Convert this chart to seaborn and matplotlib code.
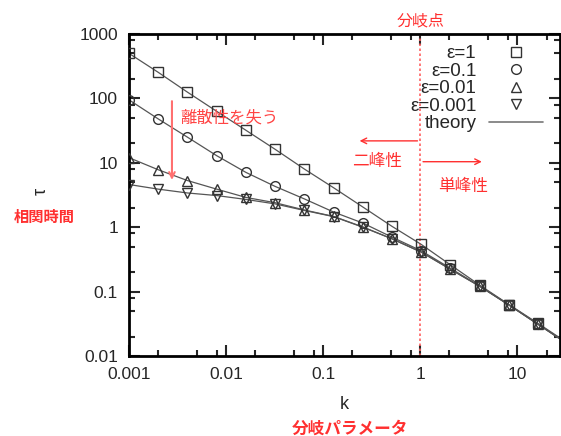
# Correlation time vs bifurcation parameter k (log-log), with annotations

import numpy as np
import pandas as pd
import seaborn as sns
import matplotlib
matplotlib.use("Agg")
import matplotlib.pyplot as plt
from matplotlib.lines import Line2D
from matplotlib.ticker import LogLocator, NullFormatter, FixedFormatter, FixedLocator

sns.set_style("ticks")
plt.rcParams['font.family'] = ['Liberation Sans', 'Noto Sans CJK JP']
plt.rcParams['axes.unicode_minus'] = False

# data
k = [0.001, 0.002, 0.004, 0.008, 0.016, 0.032, 0.064, 0.128, 0.256, 0.512,
     1.024, 2.048, 4.096, 8.192, 16.384, 32.768]
tau_eps1 = [500, 254, 125, 63, 32, 16.2, 8.0, 4.1, 2.06, 1.03,
            0.54, 0.26, 0.126, 0.063, 0.032, 0.016]
tau_eps01 = [95, 48, 25, 12.9, 7.1, 4.3, 2.75, 1.72, 1.16, 0.70,
             0.43, 0.23, 0.122, 0.062, 0.031, 0.0155]
tau_eps001 = [12, 7.8, 5.3, 3.9, 2.9, 2.4, 1.85, 1.47, 1.01, 0.66,
              0.41, 0.222, 0.121, 0.062, 0.031, 0.0155]
tau_eps0001 = [4.6, 3.9, 3.4, 3.1, 2.7, 2.3, 1.82, 1.46, 1.0, 0.66,
               0.41, 0.222, 0.121, 0.062, 0.031, 0.0155]

eps_labels = ["ε=1", "ε=0.1", "ε=0.01", "ε=0.001"]
eps_markers = ["s", "o", "^", "v"]
series = [tau_eps1, tau_eps01, tau_eps001, tau_eps0001]

xtick_vals = [0.001, 0.01, 0.1, 1, 10]
xtick_labels = ["0.001", "0.01", "0.1", "1", "10"]
ytick_vals = [0.01, 0.1, 1, 10, 100, 1000]
ytick_labels = ["0.01", "0.1", "1", "10", "100", "1000"]

df = pd.concat([
    pd.DataFrame({"k": k, "tau": s, "eps": lab})
    for s, lab in zip(series, eps_labels)
])

red = "#ff3030"

fig = plt.figure(figsize=(5.61, 4.36), dpi=100)
ax = fig.add_axes([129/561, 80/436, 431/561, 322/436])

# theory curves (gray lines) and simulation points (open markers)
for lab, mk in zip(eps_labels, eps_markers):
    sub = df[df.eps == lab]
    sns.lineplot(data=sub, x="k", y="tau", ax=ax, color="#555555", lw=0.9,
                 legend=False, zorder=2)
    ax.plot(sub.k, sub.tau, ls="none", marker=mk, ms=7, mfc="none",
            mec="#333333", mew=1.0, zorder=3, clip_on=True)

ax.set_xscale("log")
ax.set_yscale("log")
ax.set_xlim(0.001, 27.5)
ax.set_ylim(0.01, 1000)

ax.xaxis.set_major_locator(FixedLocator(xtick_vals))
ax.xaxis.set_major_formatter(FixedFormatter(xtick_labels))
ax.yaxis.set_major_locator(FixedLocator(ytick_vals))
ax.yaxis.set_major_formatter(FixedFormatter(ytick_labels))
ax.xaxis.set_minor_locator(LogLocator(base=10, subs=(2, 5, 8)))
ax.yaxis.set_minor_locator(LogLocator(base=10, subs=(2, 5, 8)))
ax.xaxis.set_minor_formatter(NullFormatter())
ax.yaxis.set_minor_formatter(NullFormatter())
ax.tick_params(which="both", direction="in", top=True, right=True,
               labelsize=12.5, width=1.5)
ax.tick_params(which="major", length=8, pad=8)
ax.tick_params(which="minor", length=4)
for sp in ax.spines.values():
    sp.set_linewidth(2)
    sp.set_color("black")

ax.set_xlabel("k", fontsize=13, labelpad=10)
ax.set_ylabel("")

# legend: text first, marker/line on the right
handles = [Line2D([], [], ls="none", marker=mk, ms=7, mfc="none",
                  mec="#333333", mew=1.0) for mk in eps_markers]
handles.append(Line2D([], [], color="#777777", lw=1.2))
fig.legend(handles, eps_labels + ["theory"], loc="upper right",
           bbox_to_anchor=(543/561, 1 - 45/436), frameon=False,
           markerfirst=False, fontsize=13.5, handlelength=2.9,
           handletextpad=0.65, labelspacing=0.02, borderaxespad=0,
           borderpad=0)

# bifurcation point
ax.axvline(1, color="#ff6060", ls=(0, (1.5, 1.5)), lw=1.2, zorder=1)
ax.text(1, 1.04, "分岐点", transform=ax.get_xaxis_transform(), color=red,
        fontsize=11.5, ha="center", va="center", clip_on=False)
ax.annotate("", xy=(0.222, 21.9), xytext=(1, 21.9),
            arrowprops=dict(arrowstyle="->", color=red, lw=1))
ax.annotate("", xy=(4.6, 10.4), xytext=(1, 10.4),
            arrowprops=dict(arrowstyle="->", color=red, lw=1))
ax.text(0.356, 10.4, "二峰性", color=red, fontsize=12, ha="center", va="center")
ax.text(2.73, 4.25, "単峰性", color=red, fontsize=12, ha="center", va="center")

# loss of discreteness
ax.annotate("", xy=(0.00277, 4.9), xytext=(0.00277, 100),
            arrowprops=dict(arrowstyle="->", color="#ff7070", lw=1.5))
ax.text(0.00335, 50, "離散性を失う", color="#ff4545", fontsize=11.8,
        ha="left", va="center")

# axis titles
fig.text(41/561, 1 - 191/436, "τ", rotation=90, fontsize=13, ha="center",
         va="center")
fig.text(44/561, 1 - 218/436, "相関時間", color=red, fontsize=11,
         fontweight="bold", ha="center", va="center")
fig.text(350/561, 1 - 429/436, "分岐パラメータ", color=red, fontsize=12,
         fontweight="bold", ha="center", va="center")

fig.savefig("out.png", dpi=100)
